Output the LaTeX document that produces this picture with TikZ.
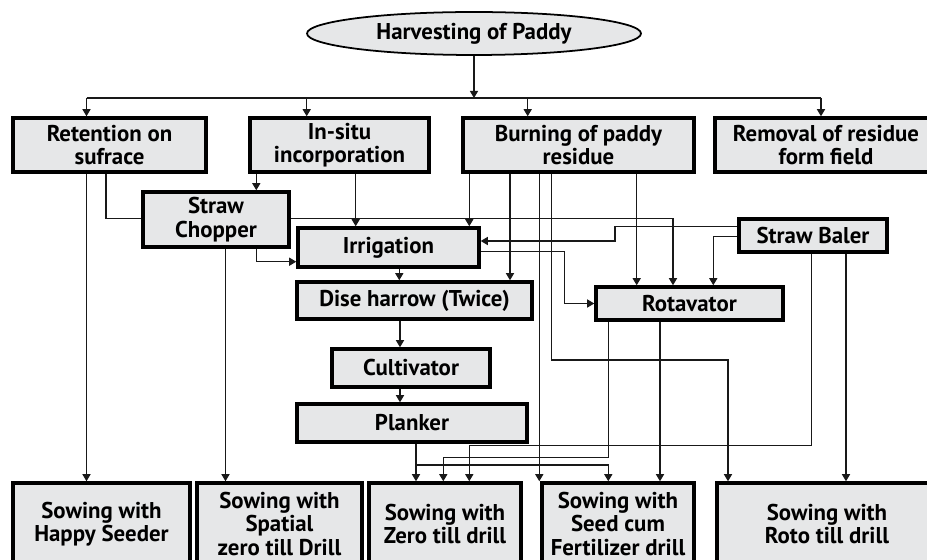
\documentclass[tikz,border=0pt]{standalone}
\usepackage{fontspec}
\setmainfont{PT Sans}
\usetikzlibrary{arrows.meta, shapes.geometric}

\definecolor{boxgray}{RGB}{230,231,232}

\begin{document}
\begin{tikzpicture}[
    x=0.02cm, y=-0.02cm,
    font=\fontsize{13}{13.4}\selectfont\bfseries,
    block/.style={
        draw,
        rectangle,
        line width=2pt,
        inner sep=0pt,
        align=center,
        fill=boxgray
    },
    size/.style 2 args={
        minimum width=#1*0.02cm,
        minimum height=#2*0.02cm
    },
    start/.style={
        draw,
        ellipse,
        line width=1pt,
        inner sep=0pt,
        fill=boxgray
    },
    line/.style={
        draw,
        line width=0.6pt,
        color=black!90
    },
    arrow/.style={
        line,
        -{Triangle[length=4pt, width=4.6pt]}
    }
]

\clip (0,0) rectangle (927,560);

% --- Start ---
\node[start, size={334}{43}] (harvest) at (474,33.5) {Harvesting of Paddy};

% --- Residue options (Top row) ---
\node[block, size={193}{54}] (retention) at (109.5,145) {Retention on\\sufrace};
\node[block, size={179}{54}] (in_situ) at (339.5,145) {In-situ\\incorporation};
\node[block, size={231}{54}] (burning) at (578.5,145) {Burning of paddy\\residue};
\node[block, size={222}{54}] (removal) at (826,145) {Removal of residue\\form field};

% --- Machines / operations (Middle) ---
\node[block, size={146}{55}] (chopper) at (216,219.5) {Straw\\Chopper};
\node[block, size={181}{39}] (irrigation) at (388.5,247.5) {Irrigation};
\node[block, size={148}{33}] (baler) at (813,235.5) {Straw Baler};
\node[block, size={235}{37}] (harrow) at (414.5,300.5) {Dise harrow (Twice)};
\node[block, size={187}{33}] (rotavator) at (689.5,303.5) {Rotavator};
\node[block, size={158}{38}] (cultivator) at (411,368) {Cultivator};
\node[block, size={230}{38}] (planker) at (412,423) {Planker};

% --- Sowing (Bottom row) ---
\node[block, size={177}{82}] (happy_seeder) at (101.5,524) {Sowing with\\Happy Seeder};
\node[block, size={165}{82}] (spatial_drill) at (279.5,524) {Sowing with\\Spatial\\zero till Drill};
\node[block, size={152}{82}] (zero_drill) at (445,524) {Sowing with\\Zero till drill};
\node[block, size={152}{82}] (seed_drill) at (618,524) {Sowing with\\Seed cum\\Fertilizer drill};
\node[block, size={220}{82}] (roto_drill) at (827,524) {Sowing with\\Roto till drill};

% --- Connections ---

% Harvest to top row
\coordinate (bus_l) at (86.5,98);
\coordinate (bus_r) at (821,98);
\draw[arrow] (harvest.south) -- (harvest.south |- bus_l);
\draw[line] (bus_l) -- (bus_r);
\foreach \x/\n in {86.5/retention, 306.7/in_situ, 527.7/burning, 821/removal}
    \draw[arrow] (bus_l -| \x,0) -- (\n.north -| \x,0);

% Retention on surface
\draw[arrow] (retention.south -| 86.5,0) -- (happy_seeder.north -| 86.5,0);
\draw[line] (retention.south -| 106,0) |- (chopper.west |- 0,218.5);
\draw[arrow] (chopper.east |- 0,218.5) -| (rotavator.north -| 673,0);

% In-situ incorporation
\draw[arrow] (in_situ.south -| 256.3,0) -- (chopper.north -| 256.3,0);
\draw[arrow] (in_situ.south -| 355.7,0) -- (irrigation.north -| 355.7,0);

% Straw chopper
\draw[arrow] (chopper.south -| 225.5,0) -- (spatial_drill.north -| 225.5,0);
\draw[arrow] (chopper.south -| 256.3,0) |- (irrigation.west |- 0,261.7);

% Irrigation
\draw[arrow] (irrigation.south -| 399.3,0) -- (harrow.north -| 399.3,0);
\draw[arrow] (irrigation.east |- 0,251.7) -| (rotavator.west -| 564.3,0) -- (rotavator.west);

% Straw baler
\draw[arrow] (baler.west |- 0,226.7) -| (615,241) -- (irrigation.east |- 0,241);
\draw[arrow] (baler.west |- 0,236.7) -| (rotavator.north -| 713.3,0);
\draw[arrow] (baler.south -| 811.5,0) |- (469.3,445.5) -- (zero_drill.north -| 469.3,0);
\draw[arrow] (baler.south -| 846,0) -- (roto_drill.north -| 846,0);

% Burning of paddy residue
\draw[arrow] (burning.south -| 469.3,0) -- (irrigation.north -| 469.3,0);
\draw[arrow] (burning.south -| 510,0) -- (harrow.north -| 510,0);
\draw[arrow] (burning.south -| 539.3,0) -- (seed_drill.north -| 539.3,0);
\draw[arrow] (burning.south -| 551.7,0) |- (728,360) -- (roto_drill.north -| 728,0);
\draw[arrow] (burning.south -| 636.7,0) -- (rotavator.north -| 636.7,0);

% Conventional chain
\draw[arrow] (harrow.south -| 400,0) -- (cultivator.north -| 400,0);
\draw[arrow] (cultivator.south -| 400,0) -- (planker.north -| 400,0);
\draw[arrow] (planker.south -| 416,0) -- (zero_drill.north -| 416,0);
\draw[arrow] (planker.south -| 416,0) |- (608.3,465) -- (seed_drill.north -| 608.3,0);

% Rotavator
\draw[arrow] (rotavator.south -| 608.3,0) |- (443.3,457.3) -- (zero_drill.north -| 443.3,0);
\draw[arrow] (rotavator.south -| 660,0) -- (seed_drill.north -| 660,0);

\end{tikzpicture}
\end{document}
